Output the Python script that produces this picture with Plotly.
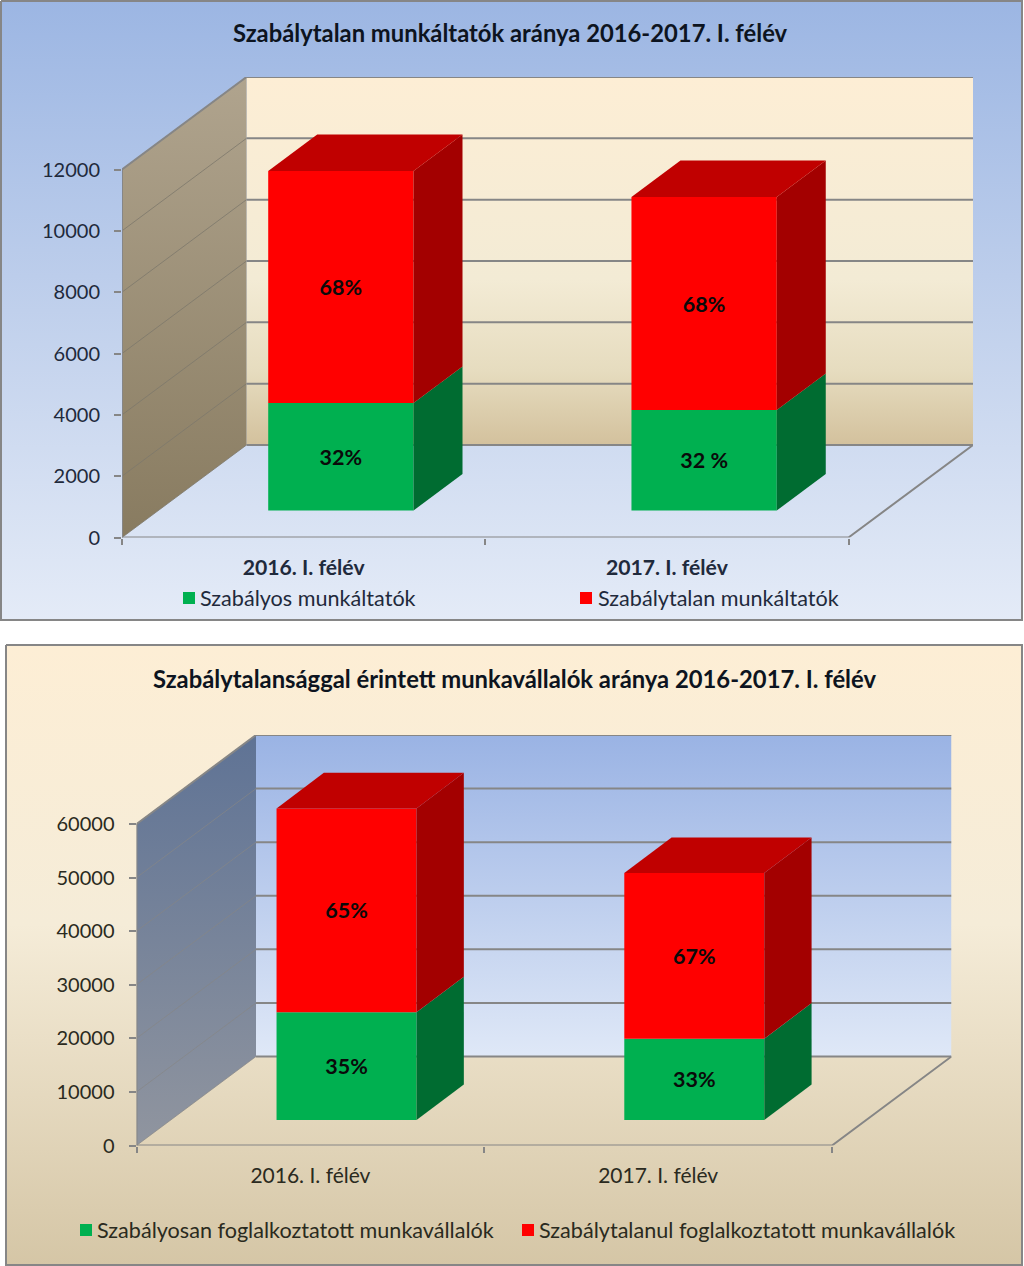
import plotly.graph_objects as go

PAGE_W, PAGE_H = 1024, 1266
FONT = "Lato"

# ---- data ----
cats_top = ["2016. I. félév", "2017. I. félév"]
regular_top = [3505, 3277]
irregular_top = [7565, 6945]
regular_top_labels = ["32%", "32 %"]
irregular_top_labels = ["68%", "68%"]
ticks_top = [0, 2000, 4000, 6000, 8000, 10000, 12000]

cats_bot = ["2016. I. félév", "2017. I. félév"]
regular_bot = [20100, 15170]
irregular_bot = [38050, 30910]
regular_bot_labels = ["35%", "33%"]
irregular_bot_labels = ["65%", "67%"]
ticks_bot = [0, 10000, 20000, 30000, 40000, 50000, 60000]

GREEN, GREEN_SIDE = "#00b050", "#006c31"
RED, RED_SIDE, RED_TOP = "#ff0000", "#a30000", "#c00000"
GRID = "#868686"


def vgrad(stops, y0, y1):
    return dict(type="vertical", colorscale=stops, start=y0, stop=y1)


fig = go.Figure()

# ---- page layer, in pixel units ----
panels = [
    (1, 1, 1022, 620, [[0, "#9cb6e3"], [0.5, "#c0d0ec"], [1, "#e4ebf7"]]),
    (6, 645, 1022, 1265, [[0, "#fdeed5"], [0.45, "#f5ecd8"], [1, "#d5c6a6"]]),
]
for (l, t, r, b, stops) in panels:
    fig.add_trace(go.Scatter(
        x=[l, r, r, l, l], y=[t, t, b, b, t], mode="lines", fill="toself",
        fillgradient=vgrad(stops, t, b), line=dict(color=GRID, width=2),
        xaxis="x", yaxis="y", hoverinfo="skip", showlegend=False, zorder=-10))

legend_items = [
    (189, 598, GREEN, 198, "Szabályos munkáltatók", "#1f2a3c"),
    (586, 598, RED, 596, "Szabálytalan munkáltatók", "#1f2a3c"),
    (86, 1230, GREEN, 95, "Szabályosan foglalkoztatott munkavállalók", "#2a2a20"),
    (528, 1230, RED, 537, "Szabálytalanul foglalkoztatott munkavállalók", "#2a2a20"),
]
annotations = []
for (mx, my, col, tx, label, tcol) in legend_items:
    fig.add_trace(go.Scatter(
        x=[mx], y=[my], mode="markers",
        marker=dict(symbol="square", size=12, color=col),
        xaxis="x", yaxis="y", hoverinfo="skip", showlegend=False, zorder=-10))
    annotations.append(dict(
        xref="x", yref="y", x=tx, y=my, text=label, showarrow=False,
        xanchor="left", yanchor="middle", font=dict(family=FONT, size=21.6, color=tcol)))

for (cx, cy, text, size) in [
    (510.5, 33, "Szabálytalan munkáltatók aránya 2016-2017. I. félév", 23.8),
    (514, 679, "Szabálytalansággal érintett munkavállalók aránya 2016-2017. I. félév", 23.8),
]:
    annotations.append(dict(
        xref="x", yref="y", x=cx, y=cy, text=text, showarrow=False,
        xanchor="center", yanchor="middle",
        font=dict(family=FONT, size=size, color="#0d1420", weight="bold")))


def chart(idx, cats, regular, irregular, reg_lab, irr_lab, ticks, geo):
    ox, oy = geo["origin"]
    unit = geo["unit"]
    ppv = (oy - geo["tick_top_px"]) / ticks[-1]
    wdx, wdy = geo["wall"]
    bdx, bdy = geo["bar_depth"]
    xa, ya = f"x{idx}", f"y{idx}"
    wall_x = wdx / unit
    wall_v = wdy / ppv
    bar_x = bdx / unit
    bar_v = bdy / ppv
    base0 = geo["bar_lift"] / ppv
    width = geo["bar_width"]
    shift = geo["bar_shift"]
    x_max = 2 + wall_x
    top = ticks[-1] + wall_v

    # walls
    fig.add_trace(go.Scatter(
        x=[wall_x, x_max, x_max, wall_x, wall_x],
        y=[wall_v, wall_v, top, top, wall_v],
        mode="lines", fill="toself", line=dict(width=0),
        fillgradient=vgrad(geo["back"], wall_v, top),
        xaxis=xa, yaxis=ya, hoverinfo="skip", showlegend=False, zorder=-5))
    fig.add_trace(go.Scatter(
        x=[0, wall_x, wall_x, 0, 0],
        y=[0, wall_v, top, ticks[-1], 0],
        mode="lines", fill="toself", line=dict(width=0),
        fillgradient=vgrad(geo["left"], 0, top),
        xaxis=xa, yaxis=ya, hoverinfo="skip", showlegend=False, zorder=-4))

    # gridlines on the walls
    gx_side, gy_side, gx_back, gy_back = [], [], [], []
    for t in ticks:
        gx_side += [0, wall_x, None]
        gy_side += [t, t + wall_v, None]
        gx_back += [wall_x, x_max, None]
        gy_back += [t + wall_v, t + wall_v, None]
    fig.add_trace(go.Scatter(
        x=gx_side, y=gy_side, mode="lines", line=dict(color=geo["side_grid"], width=1),
        xaxis=xa, yaxis=ya, hoverinfo="skip", showlegend=False, zorder=-3))
    fig.add_trace(go.Scatter(
        x=gx_back, y=gy_back, mode="lines", line=dict(color=GRID, width=2),
        xaxis=xa, yaxis=ya, hoverinfo="skip", showlegend=False, zorder=-3))
    # floor and axis edges
    fig.add_trace(go.Scatter(
        x=[0, 0, None, 0, 2, x_max, None, 0, wall_x],
        y=[ticks[-1], 0, None, 0, 0, wall_v, None, ticks[-1], top],
        mode="lines", line=dict(color=GRID, width=2),
        xaxis=xa, yaxis=ya, hoverinfo="skip", showlegend=False, zorder=-3))

    positions = [i + 0.5 + shift for i in range(len(cats))]
    bases_reg = [base0 for _ in cats]
    bases_irr = [base0 + r for r in regular]
    for vals, bases, col, labels, name in [
        (regular, bases_reg, GREEN, reg_lab, "regular"),
        (irregular, bases_irr, RED, irr_lab, "irregular"),
    ]:
        fig.add_trace(go.Bar(
            x=positions, y=vals, base=bases, width=width, marker=dict(color=col, line=dict(width=0)),
            text=labels, textposition="inside", insidetextanchor="middle", textangle=0,
            constraintext="none",
            textfont=dict(family=FONT, size=geo["label_size"], color="#0a0a0a", weight="bold"),
            xaxis=xa, yaxis=ya, name=name, showlegend=False, hoverinfo="skip", zorder=1))

    # depth faces of the bars
    for i, p in enumerate(positions):
        right = p + width / 2
        left = p - width / 2
        b0 = bases_reg[i]
        b1 = bases_irr[i]
        b2 = b1 + irregular[i]
        for low, high, col in [(b0, b1, GREEN_SIDE), (b1, b2, RED_SIDE)]:
            fig.add_trace(go.Scatter(
                x=[right, right + bar_x, right + bar_x, right, right],
                y=[low, low + bar_v, high + bar_v, high, low],
                mode="lines", fill="toself", fillcolor=col, line=dict(width=0),
                xaxis=xa, yaxis=ya, hoverinfo="skip", showlegend=False, zorder=2))
        fig.add_trace(go.Scatter(
            x=[left, right, right + bar_x, left + bar_x, left],
            y=[b2, b2, b2 + bar_v, b2 + bar_v, b2],
            mode="lines", fill="toself", fillcolor=RED_TOP, line=dict(width=0),
            xaxis=xa, yaxis=ya, hoverinfo="skip", showlegend=False, zorder=2))

    right_px = ox + 2 * unit + wdx
    top_px = geo["tick_top_px"] - wdy
    x_ax = dict(
        domain=[ox / PAGE_W, right_px / PAGE_W], range=[0, x_max], anchor=ya,
        tickmode="array", tickvals=[i + 0.5 for i in range(len(cats))], ticktext=cats,
        ticks="", showgrid=False, zeroline=False, showline=False,
        ticklabelstandoff=geo["x_standoff"],
        tickfont=dict(family=FONT, size=geo["xfont"], color=geo["tcol"], weight=geo["xweight"]),
        minor=dict(tickmode="array", tickvals=[0, 1, 2], ticks="outside", ticklen=6,
                   tickcolor=GRID, tickwidth=2, showgrid=False),
    )
    y_ax = dict(
        domain=[1 - oy / PAGE_H, 1 - top_px / PAGE_H], range=[0, top], anchor=xa,
        tickmode="array", tickvals=ticks, ticktext=[str(t) for t in ticks],
        ticks="outside", ticklen=7, tickcolor=GRID, tickwidth=2,
        showgrid=False, zeroline=False, showline=False,
        ticklabelstandoff=geo["y_standoff"],
        tickfont=dict(family=FONT, size=geo["yfont"], color=geo["tcol"]),
    )
    return x_ax, y_ax


geo_top = dict(
    origin=(122, 537.5), unit=363.25, tick_top_px=169.5, wall=(124.5, 92.5),
    bar_depth=(49, 36.5), bar_lift=27, bar_width=0.40, bar_shift=0.1025,
    back=[[0, "#d3c19d"], [0.2, "#e6dcbf"], [0.45, "#f3ebd5"], [1, "#fdeed5"]],
    left=[[0, "#887b60"], [1, "#b0a48e"]], side_grid="rgba(125,120,108,0.8)",
    label_size=21.5, xfont=21.2, yfont=20, tcol="#1f2a3c", xweight="bold",
    x_standoff=15, y_standoff=10,
)
geo_bot = dict(
    origin=(136.5, 1145.5), unit=347.75, tick_top_px=824, wall=(119.5, 89),
    bar_depth=(47.3, 35.6), bar_lift=25.5, bar_width=0.4026, bar_shift=0.104,
    back=[[0, "#dfe8f7"], [1, "#9ab3e4"]],
    left=[[0, "#90959f"], [1, "#5f7395"]], side_grid="rgba(134,134,134,0.7)",
    label_size=21.5, xfont=21, yfont=20, tcol="#2a2a20", xweight="normal",
    x_standoff=15, y_standoff=10,
)

x2, y2 = chart(2, cats_top, regular_top, irregular_top,
               regular_top_labels, irregular_top_labels, ticks_top, geo_top)
x3, y3 = chart(3, cats_bot, regular_bot, irregular_bot,
               regular_bot_labels, irregular_bot_labels, ticks_bot, geo_bot)

fig.update_layout(
    width=PAGE_W, height=PAGE_H, autosize=False,
    margin=dict(l=0, r=0, t=0, b=0, pad=0, autoexpand=False),
    paper_bgcolor="white", plot_bgcolor="rgba(0,0,0,0)",
    barmode="overlay", showlegend=False,
    annotations=annotations,
    xaxis=dict(domain=[0, 1], range=[0, PAGE_W], visible=False, fixedrange=True),
    yaxis=dict(domain=[0, 1], range=[PAGE_H, 0], visible=False, fixedrange=True),
    xaxis2=x2, yaxis2=y2, xaxis3=x3, yaxis3=y3,
)

fig.write_html(
    "out.html",
    config=dict(displayModeBar=False),
    post_script="document.body.style.margin='0';document.body.style.overflow='hidden';",
)
